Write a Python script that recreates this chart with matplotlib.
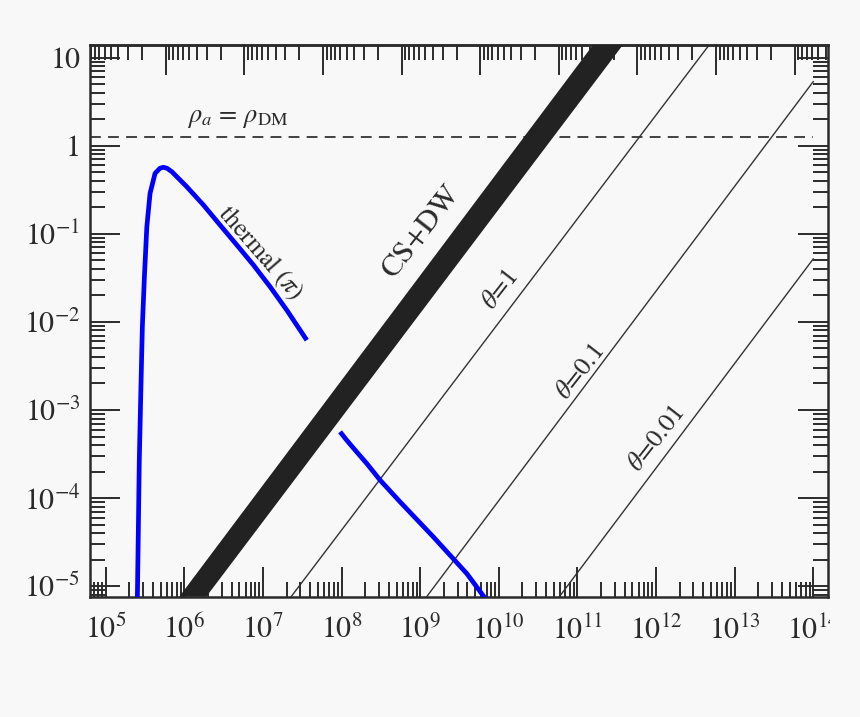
import numpy as np
import matplotlib
matplotlib.use('Agg')
import matplotlib.pyplot as plt
from matplotlib.ticker import LogLocator, FuncFormatter, NullFormatter
from matplotlib.patches import Rectangle

# thermal (pi) production curve
thermal_x = [2.52e5, 2.60e5, 2.67e5, 2.79e5, 2.92e5, 3.10e5, 3.33e5, 3.66e5,
             4.24e5, 4.90e5, 5.41e5, 6.00e5, 6.92e5, 1.07e6, 1.75e6, 2.84e6,
             4.65e6, 7.55e6, 1.23e7, 2.01e7, 3.61e7]
thermal_y = [6.9e-6, 4.7e-5, 2.7e-4, 1.55e-3, 8.8e-3, 3.26e-2, 0.120, 0.288,
             0.486, 0.555, 0.569, 0.555, 0.507, 0.343, 0.212, 0.126, 0.0746,
             0.0443, 0.0251, 0.0136, 6.2e-3]

# second blue segment
low_x = [9.57e7, 1.16e8, 1.49e8, 2.09e8, 3.09e8, 5.55e8, 1.47e9, 3.92e9, 6.70e9]
low_y = [5.65e-4, 4.55e-4, 3.50e-4, 2.47e-4, 1.60e-4, 9.06e-5, 3.63e-5, 1.39e-5, 7.3e-6]

# misalignment lines, end points
theta_labels = [r'$\theta$=1', r'$\theta$=0.1', r'$\theta$=0.01']
theta_x = [[2.28e7, 4.74e12], [1.21e9, 1e14], [5.90e10, 1e14]]
theta_y = [[7.6e-6, 13.9], [7.6e-6, 5.33], [7.6e-6, 0.0518]]

# CS+DW band edges
band_y = [7.6e-6, 13.9]
band_left_x = [8.61e5, 1.58e11]
band_right_x = [1.90e6, 3.78e11]

rho_dm = 1.25
rho_x = [6.3e4, 1e14]

m_const = 5.8e6  # top axis: m_a = const / f_a

bg = '#f8f8f8'
ink = '#2b2b2b'

plt.rcParams['font.family'] = 'STIXGeneral'
plt.rcParams['mathtext.fontset'] = 'stix'

fig = plt.figure(figsize=(8.6, 7.17), dpi=100, facecolor=bg)
ax = fig.add_axes([90 / 860, 1 - 596.7 / 717, 737.7 / 860, 551.7 / 717])
ax.set_facecolor(bg)

ax.set_xscale('log')
ax.set_yscale('log')
ax.set_xlim(6.3e4, 1.53e14)
ax.set_ylim(7.6e-6, 13.9)

# band
ax.fill(band_left_x + band_right_x[::-1], band_y + band_y[::-1],
        color='#222222', lw=0, zorder=3)

for tx, ty in zip(theta_x, theta_y):
    ax.plot(tx, ty, color='#333333', lw=1.0, zorder=2)

ax.plot(rho_x, [rho_dm, rho_dm], color='#333333', lw=1.3,
        dashes=(6, 4), zorder=2)

ax.plot(thermal_x, thermal_y, color='#0000ff', lw=3.4, zorder=4,
        solid_capstyle='butt', solid_joinstyle='round')
ax.plot(low_x, low_y, color='#0000ff', lw=3.4, zorder=4,
        solid_capstyle='butt', solid_joinstyle='round')

# labels
ax.text(0.2006, 0.8677, r'$\rho_a\,=\,\rho_{\rm DM}$', transform=ax.transAxes,
        ha='center', va='center', fontsize=19, color=ink)
ax.text(0.2304, 0.6230, r'thermal $(\pi)$', transform=ax.transAxes,
        ha='center', va='center', fontsize=18.5, color=ink,
        rotation=-49, rotation_mode='anchor')
ax.text(0.4487, 0.6611, 'CS+DW', transform=ax.transAxes,
        ha='center', va='center', fontsize=22, color=ink,
        rotation=52, rotation_mode='anchor')
theta_pos = [(0.5571, 0.5559), (0.6656, 0.4073), (0.7686, 0.2859)]
for lab, (fx, fy) in zip(theta_labels, theta_pos):
    ax.text(fx, fy, lab, transform=ax.transAxes, ha='center', va='center',
            fontsize=19, color=ink, rotation=52, rotation_mode='anchor')


def xfmt(v, pos):
    return r'$10^{%d}$' % int(round(np.log10(v)))


def yfmt(v, pos):
    n = int(round(np.log10(v)))
    if n == 0:
        return '1'
    if n == 1:
        return '10'
    return r'$10^{%d}$' % n


ax.xaxis.set_major_locator(LogLocator(base=10, numticks=30))
ax.xaxis.set_minor_locator(LogLocator(base=10, subs=np.arange(2, 10), numticks=30))
ax.yaxis.set_major_locator(LogLocator(base=10, numticks=30))
ax.yaxis.set_minor_locator(LogLocator(base=10, subs=np.arange(2, 10), numticks=30))
ax.xaxis.set_major_formatter(FuncFormatter(xfmt))
ax.yaxis.set_major_formatter(FuncFormatter(yfmt))
ax.xaxis.set_minor_formatter(NullFormatter())
ax.yaxis.set_minor_formatter(NullFormatter())

ax.tick_params(which='both', direction='in', color=ink, width=1.4,
               top=False, right=True, labelsize=21.5, labelcolor=ink)
ax.tick_params(which='major', length=21.5)
ax.tick_params(which='minor', length=10.8)
ax.tick_params(axis='x', pad=14)
ax.tick_params(axis='y', pad=7)

for s in ax.spines.values():
    s.set_linewidth(1.8)
    s.set_color(ink)


def inv(v):
    v = np.asarray(v, dtype=float)
    with np.errstate(divide='ignore'):
        return m_const / v


sec = ax.secondary_xaxis('top', functions=(inv, inv))
sec.xaxis.set_major_locator(LogLocator(base=10, numticks=30))
sec.xaxis.set_minor_locator(LogLocator(base=10, subs=np.arange(2, 10), numticks=30))
sec.xaxis.set_minor_formatter(NullFormatter())
sec.tick_params(which='both', direction='in', color=ink, width=1.4,
                labeltop=False)
sec.tick_params(which='major', length=21.5)
sec.tick_params(which='minor', length=10.8)
sec.spines['top'].set_linewidth(1.8)
sec.spines['top'].set_color(ink)

# the source picture is cut just right of the frame
fig.patches.append(Rectangle((829.5 / 860, 0), 1, 1, transform=fig.transFigure,
                             facecolor=bg, edgecolor='none', zorder=10))

fig.savefig('out.png', dpi=100, facecolor=bg)
